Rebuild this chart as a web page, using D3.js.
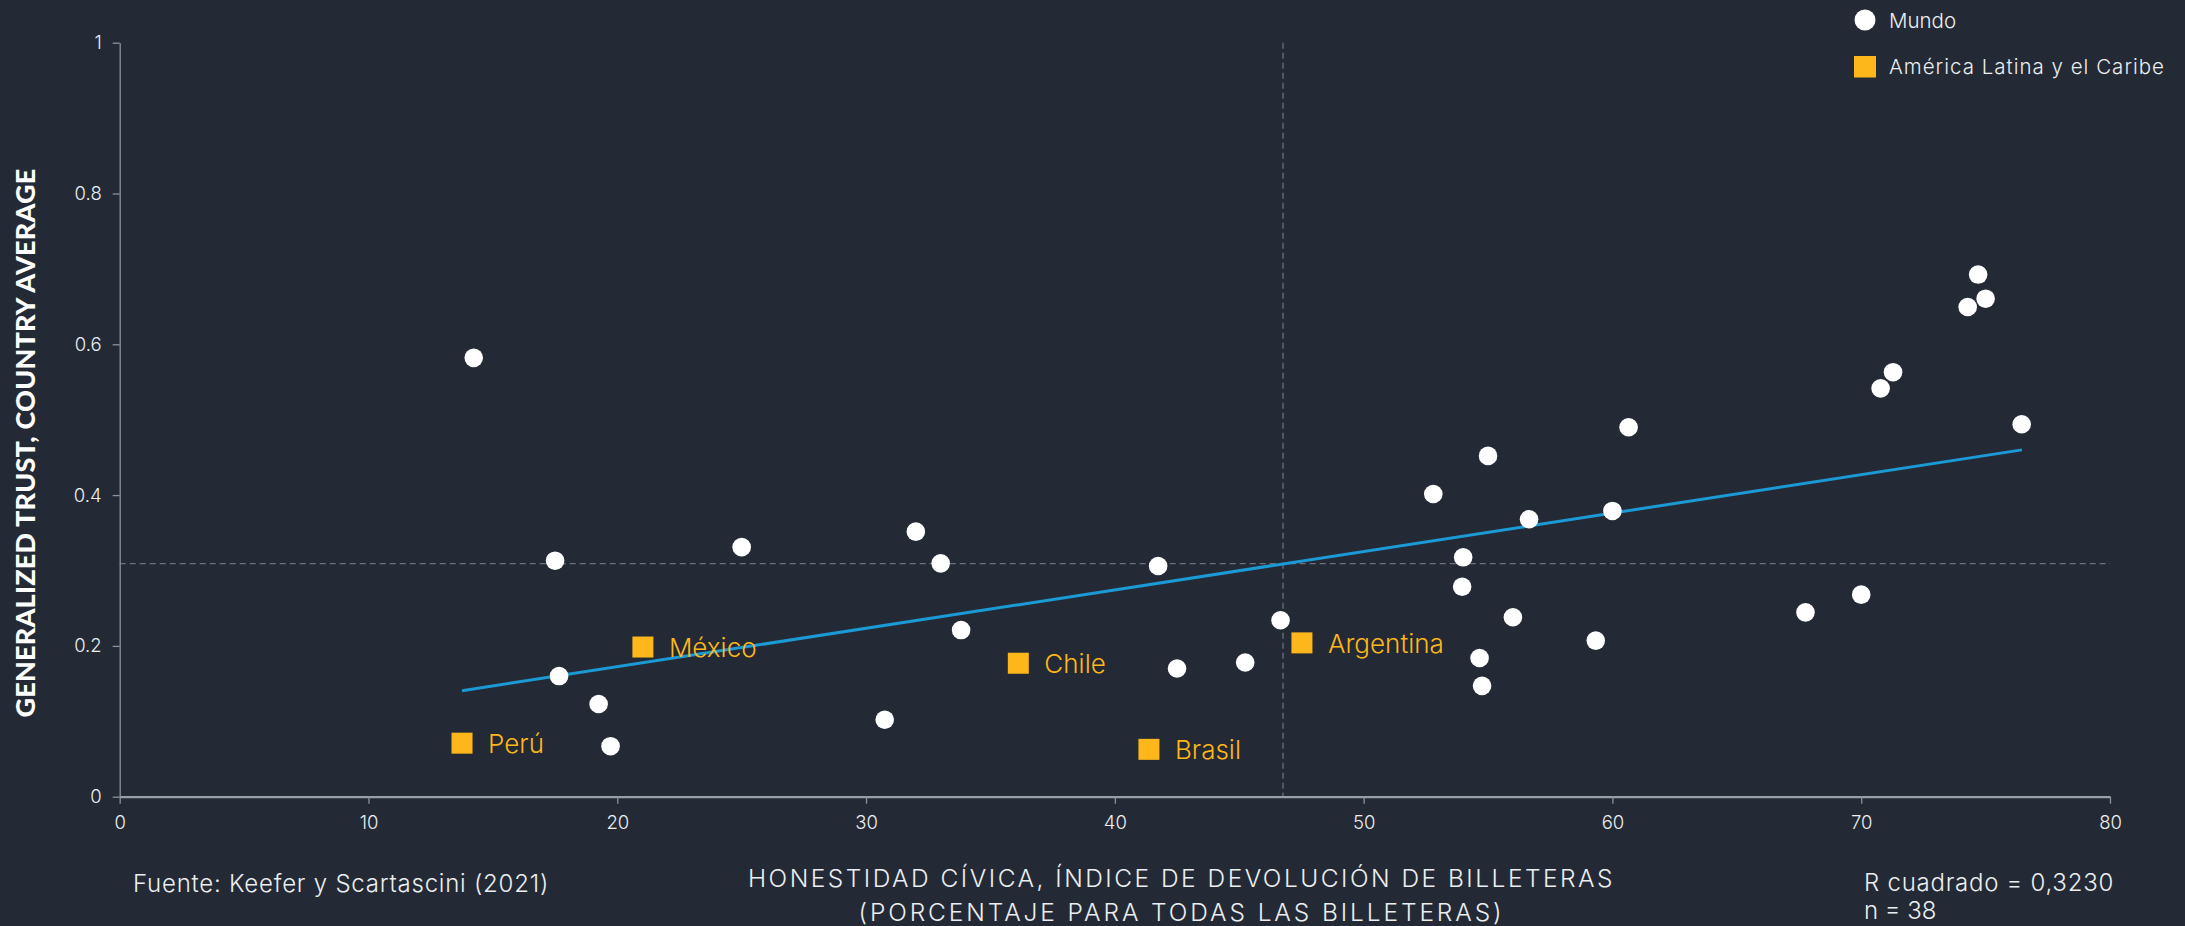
<!DOCTYPE html>
<html>
<head>
<meta charset="utf-8">
<script src="https://cdn.jsdelivr.net/npm/d3@7"></script>
<style>
  html, body { margin: 0; padding: 0; background: #232a35; }
  svg { display: block; }
  text { font-family: Inter, "Noto Sans", sans-serif; font-weight: 300; }
</style>
</head>
<body>
<svg id="chart" width="2185" height="926"></svg>
<script>
// ---------- data ----------
const mundoX = [14.23, 17.5, 17.66, 19.25, 19.73, 25.0, 30.75, 32.0, 33.0, 33.82,
                41.74, 42.5, 45.24, 46.66, 52.8, 54.0, 53.96, 55.0, 54.66, 54.76,
                56.0, 56.65, 59.33, 60.0, 60.65, 67.76, 70.0, 70.78, 71.28, 74.28,
                74.7, 75.0, 76.45];
const mundoY = [0.582, 0.313, 0.160, 0.123, 0.067, 0.331, 0.102, 0.3515, 0.3095, 0.221,
                0.306, 0.170, 0.178, 0.234, 0.4015, 0.3175, 0.2785, 0.452, 0.184, 0.147,
                0.238, 0.368, 0.207, 0.379, 0.490, 0.2445, 0.268, 0.5416, 0.563, 0.6495,
                0.6925, 0.6605, 0.494];
const lacNames = ["Perú", "México", "Chile", "Brasil", "Argentina"];
const lacX = [13.76, 21.03, 36.12, 41.37, 47.52];
const lacY = [0.071, 0.1985, 0.177, 0.0628, 0.204];
const trendX = [13.76, 76.46];
const trendY = [0.1406, 0.460];
const meanX = 46.76;
const meanY = 0.309;
const xTicks = [0, 10, 20, 30, 40, 50, 60, 70, 80];
const yTicks = [0, 0.2, 0.4, 0.6, 0.8, 1];
const legendLabels = ["Mundo", "América Latina y el Caribe"];
const xTitle = ["HONESTIDAD CÍVICA, ÍNDICE DE DEVOLUCIÓN DE BILLETERAS",
                "(PORCENTAJE PARA TODAS LAS BILLETERAS)"];
const yTitle = "GENERALIZED TRUST, COUNTRY AVERAGE";
const source = "Fuente: Keefer y Scartascini (2021)";
const stats = ["R cuadrado = 0,3230", "n = 38"];

// ---------- layout ----------
const YELLOW = "#fdb71a";
const BLUE = "#1b9ad6";
const TEXT = "#eceef0";
const AXIS = "#8e929a";
const DASH = "#6c727c";

const svg = d3.select("#chart");
const x = d3.scaleLinear().domain([0, 80]).range([119.7, 2110]);
const y = d3.scaleLinear().domain([0, 1]).range([796.7, 42.7]);

function fit(sel, target) {
  sel.each(function () {
    const n = this.textContent.length;
    const len = this.getComputedTextLength();
    d3.select(this).attr("letter-spacing", ((target - len) / n).toFixed(3));
  });
}

// dashed mean lines
svg.append("line")
  .attr("x1", x(meanX)).attr("x2", x(meanX))
  .attr("y1", y(1)).attr("y2", y(0))
  .attr("stroke", DASH).attr("stroke-width", 1.3).attr("stroke-dasharray", "6,4");
svg.append("line")
  .attr("x1", x(0)).attr("x2", x(80))
  .attr("y1", y(meanY)).attr("y2", y(meanY))
  .attr("stroke", DASH).attr("stroke-width", 1.3).attr("stroke-dasharray", "6,4");

// axes
const yAxis = svg.append("g")
  .attr("transform", `translate(${x(0)},0)`)
  .call(d3.axisLeft(y).tickValues(yTicks).tickFormat(d3.format("")).tickSize(7).tickSizeOuter(0).tickPadding(11));
yAxis.select(".domain").attr("stroke", AXIS).attr("stroke-width", 1.3);
yAxis.selectAll(".tick line").attr("stroke", AXIS).attr("stroke-width", 1.3);
yAxis.selectAll(".tick text").attr("fill", TEXT).attr("font-size", 18.5).attr("font-weight", 300)
  .attr("font-family", "Inter, sans-serif");

const xAxis = svg.append("g")
  .attr("transform", `translate(0,${y(0)})`)
  .call(d3.axisBottom(x).tickValues(xTicks).tickFormat(d3.format("")).tickSize(7).tickSizeOuter(0).tickPadding(12));
xAxis.select(".domain").attr("stroke", "#9a9ea6").attr("stroke-width", 2.2);
xAxis.selectAll(".tick line").attr("stroke", AXIS).attr("stroke-width", 1.3);
xAxis.selectAll(".tick text").attr("fill", TEXT).attr("font-size", 18.5).attr("font-weight", 300)
  .attr("font-family", "Inter, sans-serif");

// trend line
const line = d3.line().x(d => x(d[0])).y(d => y(d[1]));
svg.append("path")
  .datum(d3.zip(trendX, trendY))
  .attr("d", line)
  .attr("fill", "none").attr("stroke", BLUE).attr("stroke-width", 3);

// world points
svg.append("g").selectAll("circle")
  .data(d3.zip(mundoX, mundoY))
  .join("circle")
  .attr("cx", d => x(d[0])).attr("cy", d => y(d[1]))
  .attr("r", 9.3).attr("fill", "#ffffff");

// LAC points
const sq = 21;
const lac = svg.append("g").selectAll("g")
  .data(d3.zip(lacNames, lacX, lacY))
  .join("g")
  .attr("transform", d => `translate(${x(d[1])},${y(d[2])})`);
lac.append("rect")
  .attr("x", -sq / 2).attr("y", -sq / 2).attr("width", sq).attr("height", sq)
  .attr("fill", YELLOW);
lac.append("text")
  .attr("x", 26).attr("y", 10)
  .attr("fill", YELLOW).attr("font-size", 26)
  .text(d => d[0]);

// legend
const leg = svg.append("g");
leg.append("circle").attr("cx", 1865).attr("cy", 20).attr("r", 10.5).attr("fill", "#ffffff");
leg.append("rect").attr("x", 1854).attr("y", 56).attr("width", 22).attr("height", 21.5).attr("fill", YELLOW);
const lt = leg.selectAll("text")
  .data(legendLabels)
  .join("text")
  .attr("x", 1889)
  .attr("y", (d, i) => i === 0 ? 27.7 : 74)
  .attr("fill", TEXT).attr("font-size", 20.5)
  .text(d => d);
fit(lt.filter((d, i) => i === 1), 276);

// x title
const xt = svg.append("g").selectAll("text")
  .data(xTitle)
  .join("text")
  .attr("x", 1181.5)
  .attr("y", (d, i) => i === 0 ? 887 : 921)
  .attr("text-anchor", "middle")
  .attr("fill", TEXT).attr("font-size", 24.5)
  .text(d => d);
fit(xt.filter((d, i) => i === 0), 867);
fit(xt.filter((d, i) => i === 1), 646);

// y title
const yt = svg.append("text")
  .attr("transform", "translate(35,443) rotate(-90)")
  .attr("text-anchor", "middle")
  .attr("fill", "#ffffff").attr("font-size", 27)
  .style("font-family", "Lato, 'Open Sans', sans-serif").style("font-weight", 900)
  .text(yTitle);
fit(yt, 549);

// source
const src = svg.append("text")
  .attr("x", 133).attr("y", 892.3)
  .attr("fill", TEXT).attr("font-size", 24)
  .text(source);
fit(src, 416);

// stats
const st = svg.append("g").selectAll("text")
  .data(stats)
  .join("text")
  .attr("x", 1864)
  .attr("y", (d, i) => i === 0 ? 890.7 : 919)
  .attr("fill", TEXT).attr("font-size", 24)
  .text(d => d);
fit(st.filter((d, i) => i === 0), 250);
</script>
</body>
</html>
